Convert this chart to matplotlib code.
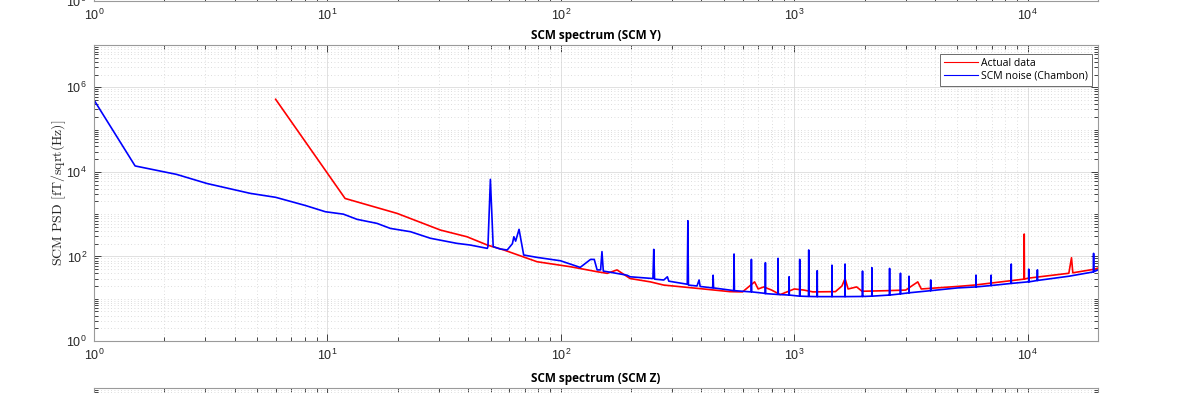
import matplotlib
matplotlib.use('Agg')
import matplotlib.pyplot as plt
from matplotlib.ticker import LogLocator, NullFormatter, FixedLocator
import numpy as np

plt.rcParams['font.family'] = ['Liberation Sans', 'DejaVu Sans']
plt.rcParams['mathtext.fontset'] = 'cm'

# ---- data ----
noise_f = [1.0, 1.5, 2.26, 3.05, 4.67, 6.0, 8.05, 9.8, 11.7, 13.4, 16.3, 18.6, 22.7, 27.6, 35.8,
           40.9, 48.4, 48.7, 49.9, 51.3, 55, 58.9, 62, 62.9, 64, 66.2, 69.3, 79, 99.6, 121,
           134, 139, 143, 148, 150, 152, 158, 192, 198, 248, 250, 252, 276, 286, 290, 348,
           350, 352, 383, 391, 395, 447, 449, 451, 530, 550, 552, 554, 653, 655, 657, 740,
           750, 752, 754, 850, 852, 854, 948, 950, 952, 1053, 1055, 1057, 1150, 1153, 1156,
           1252, 1254, 1256, 1448, 1450, 1452, 1648, 1650, 1652, 1958, 1960, 1962, 2148,
           2150, 2152, 2558, 2560, 2562, 2848, 2850, 2852, 3098, 3100, 3102, 3838, 3840,
           3842, 5000, 5998, 6000, 6002, 6968, 6970, 6972, 8498, 8500, 8502, 10000, 10098,
           10100, 10102, 10998, 11000, 11002, 15000, 19100, 19150, 19200, 20000]
noise_v = [5.0e5, 1.38e4, 8.7e3, 5.3e3, 3.1e3, 2.5e3, 1.6e3, 1.14e3, 1.0e3, 753, 605, 460, 384,
           269, 204, 186, 155, 170, 6650, 170, 150, 142, 200, 292, 230, 437, 108, 95, 79, 55,
           85, 85, 48, 48, 130, 45, 43.5, 36, 33, 30, 147, 29, 27.7, 33, 26, 22, 698, 21, 20,
           27.7, 19.5, 18, 36, 18, 16, 15.5, 114, 15.5, 14.5, 85, 14.5, 13.5, 13.2, 71, 13.2,
           12.6, 90, 12.6, 12.2, 33, 12.2, 11.5, 85, 11.5, 11.3, 142, 11.3, 11.2, 46, 11.2,
           11.2, 62, 11.2, 11.2, 66, 11.2, 11.3, 45, 11.3, 11.5, 54, 11.5, 12.2, 52, 12.2,
           13.0, 40, 13.0, 13.8, 34, 13.8, 15.5, 27.7, 15.5, 18, 19, 36, 19, 20.5, 36, 20.5,
           23, 66, 23, 25, 25, 50, 25, 27, 48, 27, 34, 43, 118, 43.5, 48]

actual_f = [6.0, 11.9, 19.9, 30.5, 39.6, 48.4, 57, 79, 110, 143, 158, 174, 198, 242, 276, 383,
            530, 600, 676, 700, 740, 800, 870, 1000, 1100, 1200, 1500, 1600, 1650, 1700, 1850,
            1950, 2500, 3000, 3380, 3500, 5000, 5900, 9600, 9640, 9660, 9682, 10000, 15000,
            15400, 15600, 19200, 20000]
actual_v = [5.2e5, 2350, 1040, 420, 292, 186, 142, 75, 57, 43.5, 39.8, 48, 30, 25, 21, 17.6,
            14.7, 14.5, 25, 17, 19, 16, 12.5, 17, 16, 14.5, 14.7, 20, 30, 17, 19, 15, 15.5,
            16, 25, 17, 19.5, 21, 29, 29, 338, 29, 30.5, 40, 93, 41, 49.6, 53]

x_major = [1e0, 1e1, 1e2, 1e3, 1e4]
y_major = [1e0, 1e2, 1e4, 1e6]
x_lim = (1, 2e4)
y_lim = (1, 1e7)

fig = plt.figure(figsize=(11.8, 3.93), dpi=100)


def style(ax):
    ax.set_xscale('log')
    ax.set_yscale('log')
    ax.set_xlim(*x_lim)
    ax.set_ylim(*y_lim)
    ax.xaxis.set_major_locator(FixedLocator(x_major))
    ax.yaxis.set_major_locator(FixedLocator(y_major))
    ax.xaxis.set_minor_locator(LogLocator(base=10, subs=np.arange(1, 10), numticks=50))
    ax.yaxis.set_minor_locator(LogLocator(base=10, subs=np.arange(1, 10), numticks=50))
    ax.xaxis.set_minor_formatter(NullFormatter())
    ax.yaxis.set_minor_formatter(NullFormatter())
    ax.grid(True, which='major', color='#dcdcdc', lw=0.6, ls='-')
    ax.grid(True, which='minor', color='#d2d2d2', lw=0.6, ls=(0, (1, 3)))
    ax.tick_params(which='both', direction='in', top=True, right=True,
                   labelsize=9, color='#262626', width=0.6, labelcolor='#262626')
    ax.tick_params(which='major', length=5, pad=5)
    ax.tick_params(which='minor', length=3)
    for s in ax.spines.values():
        s.set_color('#9a9a9a')
        s.set_linewidth(0.8)
    ax.set_axisbelow(True)


W = 1004 / 1180
H = 296 / 393
L = 94 / 1180
title_font = ['Open Sans', 'DejaVu Sans']

ax_top = fig.add_axes([L, 0.9987, W, H])
style(ax_top)

ax = fig.add_axes([L, 52 / 393, W, H])
style(ax)
ax.plot(actual_f, actual_v, color='#ff0000', lw=1.2, label='Actual data')
ax.plot(noise_f, noise_v, color='#0000ff', lw=1.2, label='SCM noise (Chambon)')
ax.set_title('SCM spectrum (SCM Y)', fontsize=8.5, fontweight='bold',
             family=title_font, pad=4)
ax.set_ylabel(r'$\mathrm{SCM\ PSD\ [fT/sqrt(Hz)]}$', fontsize=10, color='#262626')
ax.yaxis.set_label_coords(-0.026, 0.5)
leg = ax.legend(loc='upper right', bbox_to_anchor=(0.9945, 0.9705),
                prop={'family': title_font, 'size': 7.5},
                fancybox=False, framealpha=1, edgecolor='#555555', borderpad=0.4,
                handlelength=3.3, handletextpad=0.3, labelspacing=0.15, borderaxespad=0)
leg.get_frame().set_linewidth(0.6)
for h in leg.get_lines():
    h.set_linewidth(0.8)

ax_bot = fig.add_axes([L, 5 / 393 - H, W, H])
style(ax_bot)
ax_bot.set_title('SCM spectrum (SCM Z)', fontsize=8.5, fontweight='bold',
                 family=title_font, pad=4)

fig.savefig('out.png', dpi=100)
